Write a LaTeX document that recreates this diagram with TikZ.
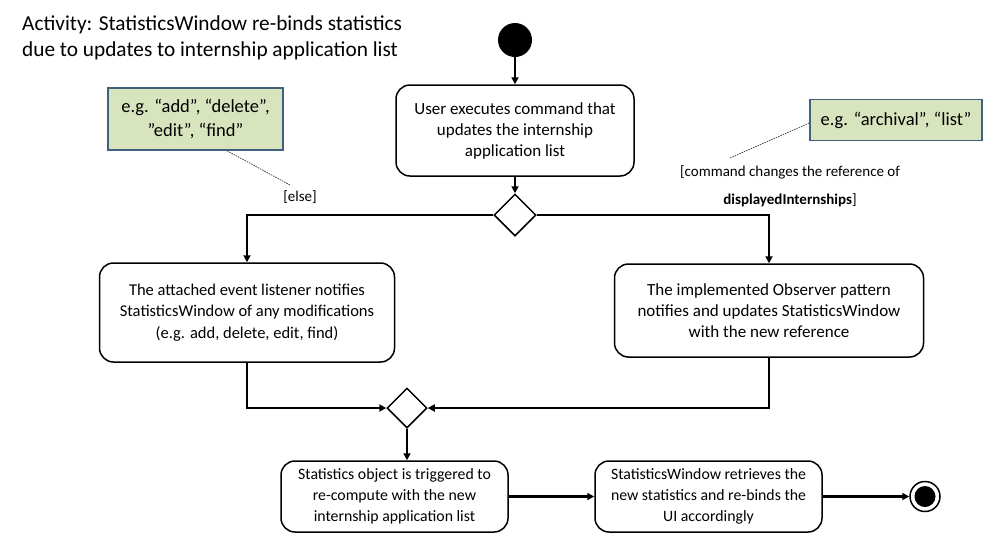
\documentclass[tikz,border=0pt]{standalone}
\usepackage{fontspec}
\setmainfont{Carlito}
\usetikzlibrary{arrows.meta,shapes.geometric}
\definecolor{notefill}{HTML}{D7E4BD}
\definecolor{noteline}{HTML}{41607F}
\tikzset{
  act/.style={draw, line width=1.5pt, rounded corners=14pt, align=center, inner sep=0pt,
    font=\fontsize{17}{21}\selectfont},
  smallact/.style={act, font=\fontsize{15.8}{21}\selectfont},
  dec/.style={draw, diamond, line width=1.5pt, aspect=1, inner sep=0pt, fill=white},
  flow/.style={line width=2.6pt, -{Triangle[length=7pt,width=7pt]}},
  note/.style={draw=noteline, fill=notefill, line width=1.5pt, align=center, inner sep=0pt,
    font=\fontsize{18.5}{24}\selectfont},
  noteline/.style={dashed, dash pattern=on 1.5pt off 1pt, line width=0.7pt, draw=black!80},
  guard/.style={font=\fontsize{15}{17}\selectfont, inner sep=0pt}
}
\begin{document}
\begin{tikzpicture}[x=1pt,y=-1pt]
\useasboundingbox (0,0) rectangle (1005,550);
\node[anchor=west, align=left, font=\fontsize{21.3}{26}\selectfont, inner sep=0pt] (title) at (22,38)
  {Activity: StatisticsWindow re-binds statistics\\due to updates to internship application list};

\node[circle, fill=black, minimum size=34pt, inner sep=0pt] (start) at (515,40) {};
\node[act, minimum width=238pt, minimum height=91pt] (a1) at (515,130.5)
  {User executes command that\\updates the internship\\application list};
\node[dec, minimum size=42pt] (d1) at (515,215) {};
\node[act, font=\fontsize{16.5}{21.5}\selectfont, minimum width=295pt, minimum height=99pt] (a2) at (247,312.5)
  {The attached event listener notifies\\StatisticsWindow of any modifications\\(e.g. add, delete, edit, find)};
\node[act, minimum width=309pt, minimum height=93pt] (a3) at (769,310.5)
  {The implemented Observer pattern\\notifies and updates StatisticsWindow\\with the new reference};
\node[dec, minimum size=40pt] (d2) at (407,408) {};
\node[smallact, minimum width=227pt, minimum height=71pt] (a4) at (394.5,496.5)
  {Statistics object is triggered to\\re-compute with the new\\internship application list};
\node[smallact, minimum width=227pt, minimum height=71pt] (a5) at (708.5,496.5)
  {StatisticsWindow retrieves the\\new statistics and re-binds the\\UI accordingly};
\node[circle, draw, line width=1.5pt, minimum size=30pt, inner sep=0pt] (end) at (925,496.5) {};
\node[circle, fill=black, minimum size=21pt, inner sep=0pt] (endin) at (925,496.5) {};

\draw[flow] (start) -- (a1);
\draw[flow] (a1) -- (d1);
\draw[flow] (d1.west) -| (a2.north);
\draw[flow] (d1.east) -| (a3.north);
\draw[flow] (a2.south) |- (d2.west);
\draw[flow] (a3.south) |- (d2.east);
\draw[flow] (d2.south) -- (d2.south |- a4.north);
\draw[flow] (a4.east) -- (a5.west);
\draw[flow] (a5.east) -- (end.west);

\node[note, minimum width=175pt, minimum height=62pt] (n1) at (195.5,119)
  {e.g. “add”, “delete”,\\”edit”, “find”};
\node[note, minimum width=172pt, minimum height=41pt] (n2) at (896,120)
  {e.g. “archival”, “list”};
\coordinate (c1) at (290,185);
\coordinate (c2) at (730,158);
\draw[noteline] (n1.south -| 227,0) -- (c1);
\draw[noteline] (n2.west |- 0,123) -- (c2);

\node[guard] (g1) at (300,197) {[else]};
\node[guard] (g2) at (790,172) {[command changes the reference of};
\node[guard] (g3) at (790,200) {\textbf{displayedInternships}]};
\end{tikzpicture}
\end{document}
